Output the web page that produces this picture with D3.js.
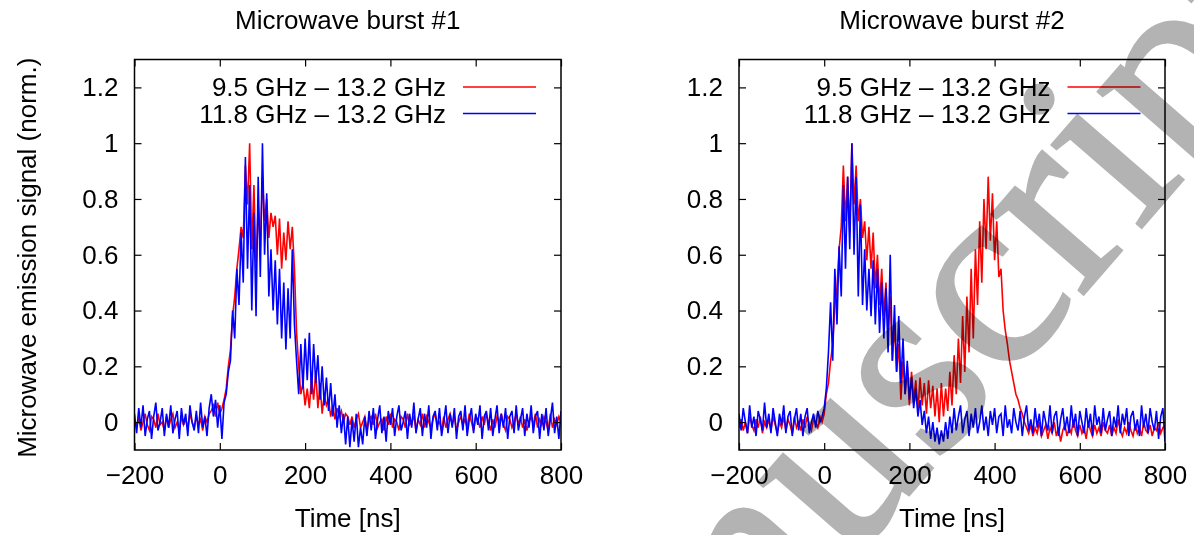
<!DOCTYPE html>
<html>
<head>
<meta charset="utf-8">
<script src="https://cdn.jsdelivr.net/npm/d3@7"></script>
<style>
  html, body { margin: 0; padding: 0; background: #fff; }
  svg { display: block; }
  text { font-family: "Liberation Sans", Arial, Helvetica, sans-serif; }
</style>
</head>
<body>
<svg id="chart" width="1194" height="535"></svg>
<script>
// ---------------- DATA ----------------
const panelTitles = ["Microwave burst #1", "Microwave burst #2"];
const seriesNames = ["9.5 GHz \u2013 13.2 GHz", "11.8 GHz \u2013 13.2 GHz"];
const xTicks = [-200, 0, 200, 400, 600, 800];
const yTicks = [0, 0.2, 0.4, 0.6, 0.8, 1, 1.2];
const yTickLabels = ["0", "0.2", "0.4", "0.6", "0.8", "1", "1.2"];
const xLabel = "Time [ns]";
const yLabel = "Microwave emission signal (norm.)";
const tStart = -200, tStep = 5;   // sample grid of the traces (ns)

// Burst #1, 9.5–13.2 GHz (red)
const burst1Red = [
 0.01,-0.02,0.02,-0.03,0.00,0.03,-0.01,-0.03,0.02,0.01,-0.02,0.03,-0.01,0.00,-0.03,0.02,-0.02,0.01,0.03,-0.02,
 0.00,-0.03,0.02,-0.01,0.01,-0.02,0.03,0.00,-0.02,0.02,-0.01,0.01,-0.03,0.02,0.00,0.03,
 0.04,0.06,0.02,0.07,0.03,0.05,
 0.08,0.12,0.20,0.26,0.38,0.45,0.55,0.62,0.70,0.66,0.92,0.78,1.00,0.62,0.85,0.55,0.78,0.62,0.88,0.72,
 0.80,0.66,0.75,0.70,0.74,0.60,0.73,0.55,0.68,0.58,0.72,0.62,0.70,0.55,0.32,0.20,0.10,0.14,0.06,0.12,
 0.05,0.16,0.08,0.18,0.05,0.14,0.03,0.10,0.06,0.08,0.02,0.06,0.01,0.05,0.02,0.04,0.00,0.03,0.02,
 -0.01,0.02,-0.02,0.01,0.03,-0.02,0.00,0.02,-0.03,0.01,
 0.02,-0.01,0.03,-0.02,0.00,0.01,-0.03,0.02,-0.01,0.03,
 -0.02,0.01,0.00,-0.03,0.02,0.01,-0.02,0.03,-0.01,0.00,
 0.02,-0.03,0.01,-0.01,0.03,-0.02,0.02,0.00,-0.02,0.01,
 0.03,-0.01,0.00,-0.03,0.02,-0.02,0.01,0.03,-0.01,0.02,
 -0.03,0.00,0.02,-0.01,0.01,-0.02,0.03,0.00,-0.03,0.02,
 0.01,-0.02,0.02,-0.01,0.03,0.00,-0.03,0.01,-0.02,0.02,
 0.00,0.03,-0.01,-0.03,0.02,0.01,-0.02,0.00,0.03,-0.01,
 0.02,-0.02,0.01,-0.03,0.00,0.02,-0.01,0.03,-0.02,0.01,
 -0.01,0.02,0.00,-0.03,0.03,-0.02,0.01,-0.01,0.02,0.00
];
// Burst #1, 11.8–13.2 GHz (blue)
const burst1Blue = [
 0.03,-0.04,0.05,-0.02,0.06,-0.05,0.01,0.04,-0.06,0.02,0.07,-0.03,0.00,0.05,-0.05,0.03,-0.02,0.06,-0.04,0.01,
 0.04,-0.06,0.05,-0.01,0.03,-0.05,0.06,0.00,-0.03,0.04,-0.04,0.07,-0.02,0.02,-0.05,0.05,
 0.10,0.02,0.08,-0.02,0.06,-0.06,
 0.07,0.10,0.18,0.22,0.40,0.30,0.55,0.42,0.68,0.50,0.95,0.55,0.85,0.40,0.75,0.38,0.88,0.52,1.00,0.60,
 0.82,0.45,0.62,0.40,0.58,0.35,0.55,0.30,0.50,0.26,0.48,0.30,0.62,0.35,0.22,0.10,0.28,0.12,0.30,0.15,
 0.32,0.10,0.28,0.14,0.24,0.08,0.20,0.06,0.16,0.04,0.14,0.02,0.10,-0.02,0.06,-0.04,0.03,-0.08,0.02,
 -0.09,0.01,-0.07,0.03,-0.09,-0.02,-0.08,0.02,-0.05,0.04,
 -0.03,0.05,-0.06,0.01,0.06,-0.04,0.02,-0.07,0.04,-0.01,
 0.05,-0.05,0.02,0.06,-0.03,0.00,0.04,-0.06,0.03,-0.02,
 0.07,-0.04,0.01,0.05,-0.05,0.03,-0.02,0.06,-0.06,0.02,
 0.04,-0.03,0.05,-0.05,0.00,0.06,-0.04,0.03,-0.02,0.05,
 -0.06,0.02,0.04,-0.03,0.06,-0.05,0.01,0.05,-0.04,0.03,
 -0.01,0.06,-0.06,0.02,0.04,-0.03,0.05,-0.05,0.01,0.06,
 -0.04,0.03,-0.02,0.05,-0.06,0.02,0.04,-0.04,0.06,-0.03,
 0.01,0.05,-0.05,0.03,-0.02,0.06,-0.04,0.02,0.04,-0.06,
 0.03,-0.03,0.05,-0.05,0.01,0.07,-0.04,0.02,-0.06,0.04
];
// Burst #2, 9.5–13.2 GHz (red)
const burst2Red = [
 -0.02,0.01,-0.03,0.00,-0.04,0.02,-0.01,-0.03,0.01,-0.02,0.02,-0.04,0.00,-0.02,0.01,-0.03,0.02,-0.01,-0.04,0.00,
 -0.02,0.02,-0.03,0.01,-0.01,-0.04,0.02,-0.02,0.00,-0.03,0.01,-0.02,0.02,-0.01,-0.03,0.01,0.00,-0.02,0.02,0.00,
 0.03,0.10,0.14,0.22,0.28,0.42,0.48,0.62,0.70,0.92,0.72,0.88,0.68,1.00,0.78,0.92,0.72,0.80,0.66,0.72,
 0.58,0.70,0.55,0.68,0.48,0.60,0.42,0.55,0.38,0.50,0.32,0.45,0.22,0.35,0.18,0.28,0.08,0.22,0.10,0.20,
 0.06,0.18,0.08,0.15,0.04,0.16,0.06,0.14,0.03,0.15,0.05,0.13,0.02,0.12,0.00,0.14,0.02,0.12,0.04,0.18,
 0.06,0.24,0.10,0.30,0.14,0.38,0.18,0.45,0.25,0.55,0.30,0.62,0.42,0.72,0.50,0.80,0.62,0.88,0.65,0.82,
 0.58,0.72,0.52,0.55,0.40,0.33,0.28,0.22,0.18,0.14,0.10,0.08,0.05,0.03,0.00,-0.02,
 -0.04,-0.01,-0.05,-0.02,-0.04,0.00,-0.05,-0.03,-0.01,-0.06,
 -0.02,-0.04,0.00,-0.05,-0.02,-0.07,-0.03,-0.01,-0.05,-0.02,
 -0.04,0.01,-0.03,-0.05,-0.01,-0.04,-0.02,-0.06,0.00,-0.03,
 -0.05,-0.01,-0.04,-0.02,-0.05,0.00,-0.03,-0.04,-0.01,-0.05,
 -0.02,-0.04,0.01,-0.03,-0.05,-0.02,-0.04,0.00,-0.03,-0.05,
 -0.01,-0.04,-0.02,-0.05,0.00,-0.03,-0.04,-0.01,-0.05,-0.02,
 -0.03,0.00,-0.04,-0.02,-0.01
];
// Burst #2, 11.8–13.2 GHz (blue)
const burst2Blue = [
 0.03,-0.03,0.05,0.00,-0.04,0.06,-0.02,0.02,-0.05,0.04,0.01,-0.03,0.07,-0.02,0.03,-0.04,0.05,0.00,-0.05,0.03,
 -0.01,0.06,-0.04,0.02,0.04,-0.05,0.01,0.05,-0.03,0.03,-0.05,0.02,0.05,-0.04,0.00,0.03,-0.02,0.04,0.00,0.02,
 0.05,0.12,0.25,0.43,0.22,0.55,0.35,0.63,0.45,0.85,0.55,0.88,0.62,1.00,0.60,0.88,0.45,0.78,0.42,0.62,
 0.40,0.55,0.38,0.58,0.35,0.55,0.32,0.50,0.30,0.48,0.25,0.60,0.22,0.42,0.18,0.38,0.14,0.30,0.10,0.22,
 0.08,0.16,0.05,0.12,0.02,0.08,-0.01,0.04,-0.04,0.02,-0.06,0.00,-0.07,-0.02,-0.08,-0.03,-0.07,0.00,-0.06,0.02,
 -0.04,
 0.05,-0.03,0.02,0.06,-0.04,0.01,0.04,-0.05,0.03,-0.02,
 0.05,-0.04,0.00,0.06,-0.03,0.02,-0.05,0.04,-0.01,0.05,
 -0.04,0.02,0.03,-0.05,0.06,-0.02,0.01,-0.04,0.05,0.00,
 -0.03,0.04,-0.05,0.02,0.06,-0.03,0.01,-0.04,0.05,-0.02,
 0.03,-0.05,0.04,0.00,-0.03,0.06,-0.04,0.02,0.04,-0.05,
 0.01,0.05,-0.03,0.02,-0.04,0.06,-0.02,0.03,-0.05,0.04,
 0.00,-0.04,0.05,-0.02,0.03,-0.05,0.06,-0.01,0.02,-0.04,
 0.05,-0.03,0.01,0.04,-0.05,0.02,-0.02,0.06,-0.04,0.03,
 -0.01,0.05,-0.05,0.02,0.04,-0.03,0.01,-0.05,0.06,-0.02,
 0.03,-0.04,0.05,0.00,-0.03,0.04,-0.06,0.02,0.05,-0.07
];
const seriesColors = ["#ff0000", "#0000ff"];
const watermarkText = "manuscript";

// ---------------- DRAW ----------------
const svg = d3.select("#chart");
const FS = 26;
const panels = [
  { left: 134.5, right: 561, title: panelTitles[0], series: [burst1Red, burst1Blue], ylab: true },
  { left: 739, right: 1165, title: panelTitles[1], series: [burst2Red, burst2Blue], ylab: false }
];
const plotTop = 59.5, plotBottom = 450;

panels.forEach(p => {
  const g = svg.append("g");
  const x = d3.scaleLinear().domain([-200, 800]).range([p.left, p.right]);
  const y = d3.scaleLinear().domain([-0.1, 1.3]).range([plotBottom, plotTop]);

  const cid = "clip" + Math.round(p.left);
  svg.append("clipPath").attr("id", cid).append("rect")
    .attr("x", p.left).attr("y", plotTop).attr("width", p.right - p.left).attr("height", plotBottom - plotTop);

  const line = d3.line().x((d, i) => x(tStart + i * tStep)).y(d => y(d));
  p.series.forEach((s, k) => {
    g.append("path").datum(s).attr("d", line).attr("clip-path", `url(#${cid})`)
      .attr("fill", "none").attr("stroke", seriesColors[k]).attr("stroke-width", 1.6)
      .attr("stroke-linejoin", "miter");
  });

  const ax = (gen, tx, ty) => {
    const a = g.append("g").attr("transform", `translate(${tx},${ty})`).call(gen);
    a.select(".domain").remove();
    a.selectAll(".tick line").attr("stroke", "#000").attr("stroke-width", 1.2);
    a.selectAll(".tick text").attr("fill", "#000").style("font-size", FS + "px")
      .style("font-family", '"Liberation Sans", Arial, sans-serif');
    return a;
  };
  ax(d3.axisBottom(x).tickValues(xTicks).tickSize(-7).tickPadding(16)
       .tickFormat(d => d < 0 ? "\u2212" + Math.abs(d) : String(d)), 0, plotBottom);
  ax(d3.axisTop(x).tickValues(xTicks).tickSize(-7).tickFormat(""), 0, plotTop);
  ax(d3.axisLeft(y).tickValues(yTicks).tickSize(-7).tickPadding(16)
       .tickFormat((d, i) => yTickLabels[i]), p.left, 0);
  ax(d3.axisRight(y).tickValues(yTicks).tickSize(-7).tickFormat(""), p.right, 0);

  g.append("rect").attr("x", p.left).attr("y", plotTop).attr("width", p.right - p.left)
    .attr("height", plotBottom - plotTop).attr("fill", "none").attr("stroke", "#000").attr("stroke-width", 1.5);

  const cx = (p.left + p.right) / 2;
  g.append("text").attr("x", cx).attr("y", 29).attr("text-anchor", "middle")
    .style("font-size", FS + "px").text(p.title);
  g.append("text").attr("x", cx).attr("y", 527).attr("text-anchor", "middle")
    .style("font-size", FS + "px").text(xLabel);

  const textEnd = p.left + 311.5;
  seriesNames.forEach((n, k) => {
    const ly = 87 + k * 26.5;
    g.append("text").attr("x", textEnd).attr("y", ly).attr("dy", "0.35em")
      .attr("text-anchor", "end").style("font-size", FS + "px").text(n);
    g.append("line").attr("x1", textEnd + 17).attr("x2", textEnd + 90)
      .attr("y1", ly).attr("y2", ly).attr("stroke", seriesColors[k]).attr("stroke-width", 1.4);
  });

  if (p.ylab) {
    g.append("text").attr("transform", `translate(36,${(plotTop + plotBottom) / 2 + 3}) rotate(-90)`)
      .attr("text-anchor", "middle").style("font-size", FS + "px").text(yLabel);
  }
});

// "manuscript" watermark of the source page
svg.append("text")
  .attr("transform", "translate(549,909) rotate(-49)")
  .attr("text-anchor", "start")
  .style("font-family", '"Liberation Serif", "Times New Roman", serif')
  .style("font-size", "265px")
  .style("mix-blend-mode", "multiply")
  .attr("fill", "#b3b3b3").attr("stroke", "#b3b3b3").attr("stroke-width", 3)
  .text(watermarkText);
</script>
</body>
</html>
